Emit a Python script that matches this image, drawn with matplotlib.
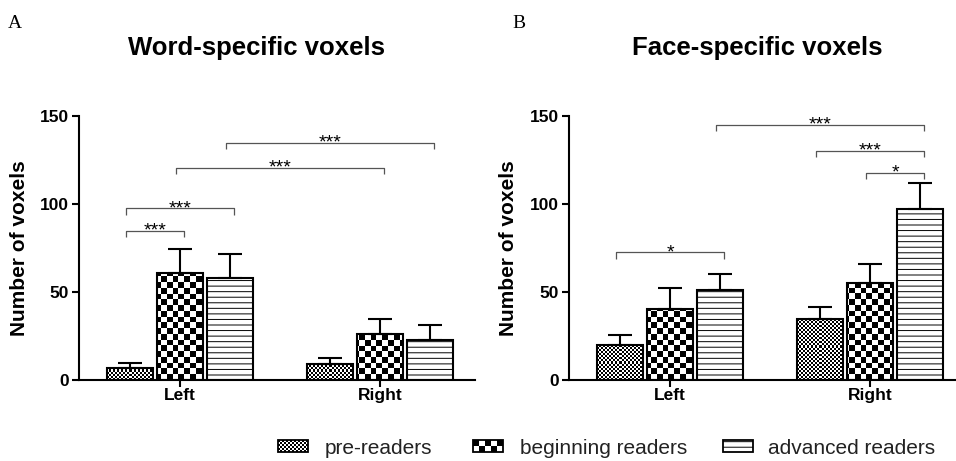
import numpy as np
import matplotlib
matplotlib.use('Agg')
import matplotlib.pyplot as plt
from matplotlib.patches import Rectangle

plt.rcParams['font.family'] = ['Liberation Sans', 'DejaVu Sans']
plt.rcParams['hatch.linewidth'] = 0.7

hemis = ['Left', 'Right']
groups = ['pre-readers', 'beginning readers', 'advanced readers']

# rows = groups, cols = Left / Right
word_mean = [[7.0, 9.1], [60.6, 26.1], [57.8, 22.7]]
word_sem = [[2.5, 3.2], [13.6, 8.4], [13.6, 8.4]]
face_mean = [[19.9, 34.7], [40.2, 55.3], [51.1, 97.3]]
face_sem = [[5.5, 7.0], [12.3, 10.4], [9.3, 14.8]]

# significance: (hemi a, group a, hemi b, group b, bracket height, label)
word_sig = [(0, 0, 0, 1, 84.7, '***'), (0, 0, 0, 2, 97.5, '***'),
            (0, 1, 1, 1, 120.6, '***'), (0, 2, 1, 2, 134.8, '***')]
face_sig = [(0, 0, 0, 2, 72.5, '*'), (1, 1, 1, 2, 117.8, '*'),
            (1, 0, 1, 2, 130.3, '***'), (0, 2, 1, 2, 144.9, '***')]

offsets = [-0.25, 0.0, 0.25]
bar_w = 0.232
checker_px = [2.0, 5.8, None]   # pattern square size per group, None -> line hatch

W, H = 956, 461
fig = plt.figure(figsize=(W / 100, H / 100), dpi=100)


def checker_img(ax, px):
    bb = ax.get_window_extent()
    nx = int(round(bb.width / px))
    ny = int(round(bb.height / px))
    return (np.add.outer(np.arange(ny), np.arange(nx)) % 2).astype(float)


def panel(ax, mean, sem, sig):
    xlim, ylim = (-0.505, 1.475), (0, 150)
    ax.set_xlim(*xlim)
    ax.set_ylim(*ylim)
    for g in range(len(groups)):
        x = np.arange(len(hemis)) + offsets[g]
        hatch = '---' if checker_px[g] is None else None
        bars = ax.bar(x, mean[g], bar_w, facecolor='none', edgecolor='black',
                      linewidth=1.5, hatch=hatch, zorder=3)
        if checker_px[g] is not None:
            img = checker_img(ax, checker_px[g])
            for b in bars:
                im = ax.imshow(img, cmap='gray', vmin=0, vmax=1, interpolation='nearest',
                               extent=(xlim[0], xlim[1], ylim[0], ylim[1]),
                               aspect='auto', zorder=2)
                im.set_clip_path(b)
        ax.errorbar(x, mean[g], yerr=[np.zeros(len(hemis)), sem[g]], fmt='none',
                    ecolor='black', elinewidth=1.5, capsize=8.5, capthick=1.5, zorder=4)
    for ha, ga, hb, gb, y, lab in sig:
        x0 = ha + offsets[ga] - 0.02
        x1 = hb + offsets[gb] + 0.02
        ax.plot([x0, x0, x1, x1], [y - 3.5, y, y, y - 3.5], color='#555555', lw=0.9,
                solid_capstyle='butt', zorder=5)
        ax.text((x0 + x1) / 2, y - 2.8, lab, ha='center', va='baseline', fontsize=14)
    ax.set_xlim(*xlim)
    ax.set_ylim(*ylim)
    ax.set_xticks(range(len(hemis)), hemis, fontweight='bold')
    ax.set_yticks([0, 50, 100, 150])
    for lbl in ax.get_yticklabels():
        lbl.set_fontweight('bold')
    ax.tick_params(direction='out', length=5, width=1.5, labelsize=12.5, pad=2)
    ax.tick_params(axis='x', pad=1)
    for s in ['top', 'right']:
        ax.spines[s].set_visible(False)
    for s in ['left', 'bottom']:
        ax.spines[s].set_linewidth(1.5)
    ax.set_ylabel('Number of voxels', fontsize=15, fontweight='bold')


ax1 = fig.add_axes([79 / W, 81 / H, 396 / W, 264 / H])
panel(ax1, word_mean, word_sem, word_sig)
ax1.yaxis.set_label_coords(-0.125, 0.5)

ax2 = fig.add_axes([569 / W, 81 / H, 396 / W, 264 / H])
panel(ax2, face_mean, face_sem, face_sig)
ax2.yaxis.set_label_coords(-0.13, 0.5)

fig.text(257 / W, 1 - 55 / H, 'Word-specific voxels', ha='center', va='baseline',
         fontsize=18.5, fontweight='bold')
fig.text(757 / W, 1 - 55 / H, 'Face-specific voxels', ha='center', va='baseline',
         fontsize=18.5, fontweight='bold')
fig.text(8 / W, 1 - 28 / H, 'A', family='Liberation Serif', fontsize=14, va='baseline')
fig.text(512 / W, 1 - 28 / H, 'B', family='Liberation Serif', fontsize=14, va='baseline')

# legend drawn in pixel coordinates
lax = fig.add_axes([0, 0, 1, 1])
lax.axis('off')
sw_x = [278, 473, 723]
tx_x = [325, 520, 768]
for g in range(len(groups)):
    x0 = sw_x[g]
    if checker_px[g] is not None:
        n = int(round(30 / checker_px[g]))
        m = int(round(12 / checker_px[g]))
        img = (np.add.outer(np.arange(m), np.arange(n)) % 2).astype(float)
        lax.imshow(img, cmap='gray', vmin=0, vmax=1, interpolation='nearest',
                   extent=(x0, x0 + 30, 452, 440), aspect='auto', zorder=2)
        lax.add_patch(Rectangle((x0, 440), 30, 12, facecolor='none', edgecolor='black',
                                lw=1.3, zorder=3))
    else:
        lax.add_patch(Rectangle((x0, 440), 30, 12, facecolor='none', edgecolor='black',
                                lw=1.3, hatch='---', zorder=3))
    lax.text(tx_x[g], 454, groups[g], fontsize=15, color='#222222', va='baseline')
lax.set_xlim(0, W)
lax.set_ylim(H, 0)

fig.savefig('out.png', dpi=100)
